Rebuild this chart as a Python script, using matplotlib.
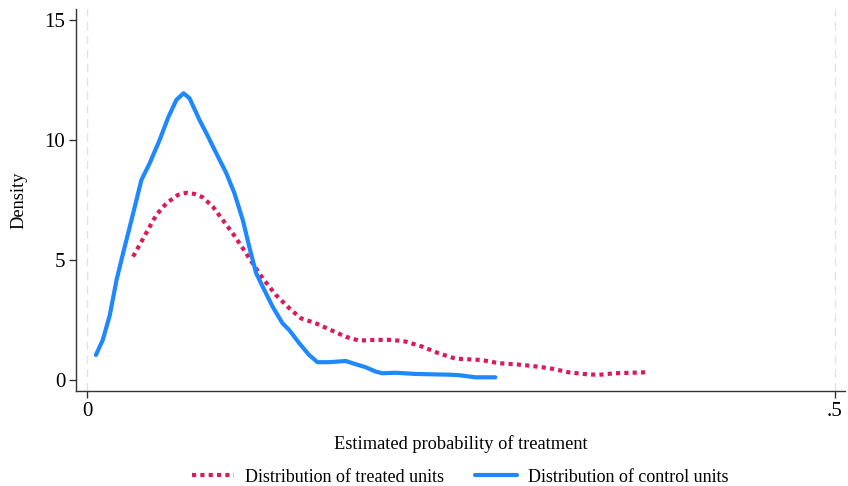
import matplotlib
matplotlib.use("Agg")
import matplotlib.pyplot as plt

plt.rcParams['font.family'] = ['Liberation Serif', 'DejaVu Serif']

# kernel density of estimated propensity score, control group
control_x = [0.0057, 0.0103, 0.0150, 0.0195, 0.0239, 0.0295, 0.0361, 0.0417, 0.0483, 0.0539,
             0.0595, 0.0643, 0.0683, 0.0750, 0.0795, 0.0861, 0.0928, 0.0983, 0.1039, 0.1083,
             0.1128, 0.1172, 0.1239, 0.1305, 0.1350, 0.1417, 0.1483, 0.1539, 0.1617, 0.1728,
             0.1772, 0.1861, 0.1928, 0.1972, 0.2061, 0.2195, 0.2417, 0.2483, 0.2595, 0.2728]
control_y = [1.04, 1.67, 2.71, 4.17, 5.29, 6.67, 8.33, 9.04, 10.00, 10.92,
             11.67, 11.95, 11.74, 10.83, 10.29, 9.46, 8.63, 7.79, 6.67, 5.54,
             4.46, 3.89, 3.05, 2.36, 2.08, 1.53, 1.04, 0.74, 0.74, 0.79,
             0.70, 0.53, 0.35, 0.28, 0.30, 0.25, 0.22, 0.20, 0.11, 0.11]

# treated group
treated_x = [0.0305, 0.0361, 0.0417, 0.0461, 0.0528, 0.0605, 0.0661, 0.0717, 0.0772, 0.0839,
             0.0905, 0.0972, 0.1039, 0.1105, 0.1172, 0.1261, 0.1350, 0.1428, 0.1528, 0.1617,
             0.1728, 0.1817, 0.1928, 0.2039, 0.2128, 0.2239, 0.2350, 0.2461, 0.2639, 0.2750,
             0.2905, 0.3017, 0.3117, 0.3217, 0.3317, 0.3417, 0.3528, 0.3639, 0.3739]
treated_y = [5.14, 5.76, 6.39, 6.88, 7.36, 7.71, 7.80, 7.75, 7.61, 7.22,
             6.67, 6.11, 5.49, 4.86, 4.24, 3.54, 2.99, 2.57, 2.36, 2.11,
             1.80, 1.64, 1.67, 1.67, 1.60, 1.39, 1.11, 0.89, 0.83, 0.70,
             0.63, 0.55, 0.46, 0.32, 0.25, 0.21, 0.28, 0.30, 0.32]

xticks = [0, 0.5]
xtick_labels = ['0', '.5']
yticks = [0, 5, 10, 15]

fig = plt.figure(figsize=(8.48, 4.86), dpi=100)
ax = fig.add_axes([0.0902, 0.1955, 0.9068, 0.786])

for xv in xticks:
    ax.axvline(xv, color='#e3e3e3', lw=1.0, ls=(0, (6, 4)), zorder=0)

ax.plot(treated_x, treated_y, color='#d81b60', lw=3.0, ls=(0, (1, 1)),
        dash_capstyle='butt', label='Distribution of treated units')
ax.plot(control_x, control_y, color='#1e88ff', lw=3.0, solid_capstyle='round',
        solid_joinstyle='round', label='Distribution of control units')

ax.set_xlim(-0.0073, 0.507)
ax.set_ylim(-0.46, 15.46)
ax.set_xticks(xticks)
ax.set_xticklabels(xtick_labels)
ax.set_yticks(yticks)

for side in ['top', 'right']:
    ax.spines[side].set_visible(False)
for side in ['left', 'bottom']:
    ax.spines[side].set_color('#333333')
    ax.spines[side].set_linewidth(1.0)
ax.tick_params(axis='both', direction='out', length=5, width=1, color='#333333',
               labelsize=15, pad=3)

ax.set_xlabel('Estimated probability of treatment', fontsize=13.2, labelpad=10)
ax.set_ylabel('Density', fontsize=13.2, labelpad=12)

fig.legend(loc='center', bbox_to_anchor=(0.543, 0.0185), ncol=2, frameon=False,
           fontsize=13, handlelength=2.3, handletextpad=0.65, columnspacing=1.7)

fig.savefig('out.png', dpi=100)
